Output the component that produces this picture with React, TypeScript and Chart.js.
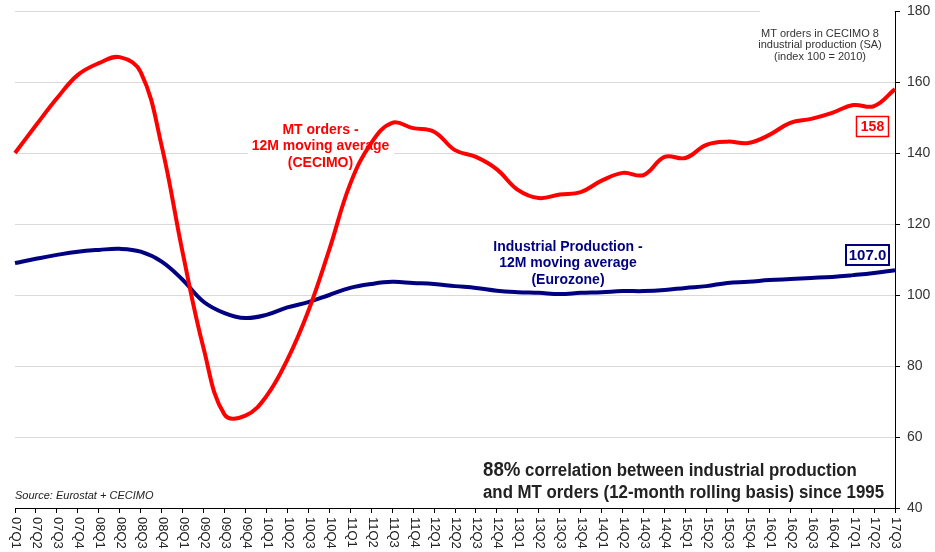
import React, { useEffect, useRef } from "react";
import { Chart, registerables } from "chart.js";

Chart.register(...registerables);

const quarters = [
  "07Q1","07Q2","07Q3","07Q4","08Q1","08Q2","08Q3","08Q4",
  "09Q1","09Q2","09Q3","09Q4","10Q1","10Q2","10Q3","10Q4",
  "11Q1","11Q2","11Q3","11Q4","12Q1","12Q2","12Q3","12Q4",
  "13Q1","13Q2","13Q3","13Q4","14Q1","14Q2","14Q3","14Q4",
  "15Q1","15Q2","15Q3","15Q4","16Q1","16Q2","16Q3","16Q4",
  "17Q1","17Q2","17Q3",
];

const mtOrders = [
  140.0, 147.8, 155.4, 162.0, 165.3, 167.0, 162.8, 142.0,
  112.0, 85.0, 66.3, 66.0, 71.5, 81.8, 95.5, 112.8,
  131.3, 142.8, 148.5, 147.0, 146.0, 140.8, 138.9, 135.4,
  129.6, 127.3, 128.3, 129.0, 132.2, 134.4, 133.8, 138.9,
  138.6, 142.3, 143.2, 142.8, 145.1, 148.5, 149.6, 151.3,
  153.5, 153.2, 158.0,
];

const industrialProduction = [
  109.0, 110.2, 111.3, 112.2, 112.7, 113.0, 112.2, 109.4,
  104.3, 98.1, 94.9, 93.5, 94.4, 96.5, 98.0, 100.0,
  102.0, 103.1, 103.7, 103.4, 103.1, 102.5, 102.0, 101.2,
  100.8, 100.6, 100.3, 100.6, 100.8, 101.1, 101.1, 101.4,
  102.0, 102.5, 103.4, 103.7, 104.2, 104.5, 104.8, 105.1,
  105.6, 106.2, 107.0,
];

const yTicks = [40, 60, 80, 100, 120, 140, 160, 180];

const mtLabel = ["MT orders -", "12M moving average", "(CECIMO)"];
const ipLabel = ["Industrial Production -", "12M moving average", "(Eurozone)"];
const noteLabel = ["MT orders in CECIMO 8", "industrial production (SA)", "(index 100 = 2010)"];
const sourceText = "Source: Eurostat + CECIMO";
const corrLine1 = ["88%", " correlation between industrial production"];
const corrLine2 = "and MT orders (12-month rolling basis) since 1995";
const lastMt = "158";
const lastIp = "107.0";

const FONT = "'Liberation Sans', Arial, sans-serif";

const annotationPlugin = {
  id: "annotations",
  beforeDatasetsDraw(chart: any) {
    const ctx = chart.ctx;
    ctx.save();
    ctx.fillStyle = "#ffffff";
    ctx.fillRect(760, 4, 134, 70);
    ctx.fillRect(248, 120, 146, 52);
    ctx.fillRect(490, 237, 156, 52);
    ctx.restore();
  },
  afterDatasetsDraw(chart: any) {
    const ctx = chart.ctx;
    const xs = chart.scales.x;
    ctx.save();
    // x tick labels rotated clockwise
    ctx.fillStyle = "#222";
    ctx.font = `13px ${FONT}`;
    ctx.textAlign = "left";
    ctx.textBaseline = "middle";
    quarters.forEach((q, i) => {
      const x = xs.getPixelForValue(i);
      ctx.save();
      ctx.translate(x + 1, 517);
      ctx.rotate(Math.PI / 2);
      ctx.fillText(q, 0, 0);
      ctx.restore();
    });

    // top-right note
    ctx.fillStyle = "#333";
    ctx.font = `11px ${FONT}`;
    ctx.textAlign = "center";
    noteLabel.forEach((t, i) => ctx.fillText(t, 820, 33.5 + i * 11.7));

    // MT orders label
    ctx.fillStyle = "#ff0000";
    ctx.font = `bold 14px ${FONT}`;
    mtLabel.forEach((t, i) => ctx.fillText(t, 320.5, 130 + i * 16.5));

    // IP label
    ctx.fillStyle = "#000080";
    ipLabel.forEach((t, i) => ctx.fillText(t, 568, 247 + i * 16.5));

    // value boxes
    ctx.fillStyle = "#fff";
    ctx.fillRect(856, 116, 33, 20);
    ctx.strokeStyle = "#ff0000";
    ctx.lineWidth = 1.5;
    ctx.strokeRect(856.5, 116.5, 32, 20);
    ctx.fillStyle = "#ff0000";
    ctx.font = `bold 14px ${FONT}`;
    ctx.fillText(lastMt, 872.5, 127);

    ctx.fillStyle = "#fff";
    ctx.fillRect(845, 244, 45, 21);
    ctx.strokeStyle = "#000080";
    ctx.lineWidth = 2;
    ctx.strokeRect(846, 245, 43, 20);
    ctx.fillStyle = "#000080";
    ctx.font = `bold 15px ${FONT}`;
    ctx.fillText(lastIp, 867.5, 255.5);

    // source
    ctx.textAlign = "left";
    ctx.fillStyle = "#222";
    ctx.font = `italic 11px ${FONT}`;
    ctx.fillText(sourceText, 15, 496);

    // correlation note (condensed to match width)
    ctx.fillStyle = "#222";
    ctx.textBaseline = "alphabetic";
    ctx.font = `bold 18px ${FONT}`;
    const w2 = ctx.measureText(corrLine2).width;
    const sx = 401 / w2;
    ctx.save();
    ctx.translate(483, 0);
    ctx.scale(sx, 1);
    ctx.font = `bold 20px ${FONT}`;
    ctx.fillText(corrLine1[0], 0, 475.5);
    const w0 = ctx.measureText(corrLine1[0]).width;
    ctx.font = `bold 18px ${FONT}`;
    ctx.fillText(corrLine1[1], w0, 475.5);
    ctx.fillText(corrLine2, 0, 497.5);
    ctx.restore();
    ctx.restore();
  },
};

export default function App() {
  const ref = useRef<HTMLCanvasElement>(null);
  useEffect(() => {
    if (!ref.current) return;
    const chart = new Chart(ref.current, {
      type: "line",
      data: {
        labels: quarters,
        datasets: [
          {
            label: "MT orders",
            data: mtOrders,
            borderColor: "#ff0000",
            borderWidth: 4,
            pointRadius: 0,
            tension: 0.4,
            fill: false,
          },
          {
            label: "Industrial Production",
            data: industrialProduction,
            borderColor: "#000080",
            borderWidth: 4,
            pointRadius: 0,
            tension: 0.4,
            fill: false,
          },
        ],
      },
      options: {
        responsive: false,
        animation: false,
        layout: { padding: { left: 15, top: 11, right: 0, bottom: 0 } },
        plugins: { legend: { display: false }, tooltip: { enabled: false }, title: { display: false } },
        scales: {
          x: {
            offset: false,
            grid: {
              display: true,
              drawOnChartArea: false,
              drawTicks: true,
              tickLength: 5,
              tickColor: "#000",
            },
            border: { display: true, color: "#000", width: 1 },
            ticks: { display: false, autoSkip: false },
            afterFit: (s: any) => { s.height = 44; s.paddingLeft = 0; s.paddingRight = 0; },
          },
          y: {
            position: "right",
            min: 40,
            max: 180,
            afterBuildTicks: (s: any) => { s.ticks = yTicks.map((v) => ({ value: v })); },
            grid: {
              color: "#d9d9d9",
              lineWidth: 1,
              drawTicks: true,
              tickLength: 5,
              tickColor: "#000",
            },
            border: { display: true, color: "#000", width: 1 },
            ticks: {
              color: "#333",
              font: { family: FONT, size: 14 },
              padding: 7,
            },
            afterFit: (s: any) => { s.width = 40; s.paddingTop = 0; s.paddingBottom = 0; },
          },
        },
      },
      plugins: [annotationPlugin],
    });
    return () => chart.destroy();
  }, []);
  return (
    <div style={{ position: "absolute", left: 0, top: 0, width: 935, height: 552, background: "#fff" }}>
      <canvas ref={ref} width={935} height={552} style={{ display: "block" }} />
    </div>
  );
}
